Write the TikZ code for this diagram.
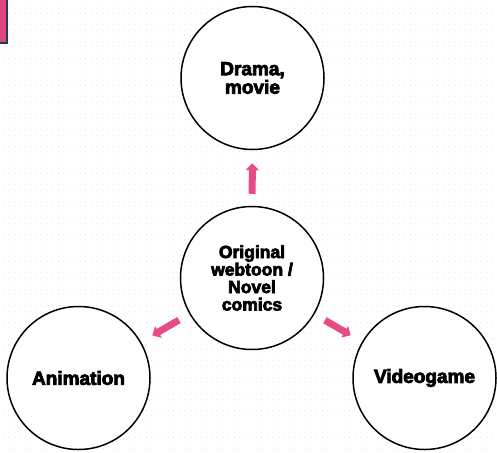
\documentclass[tikz,border=0pt]{standalone}
\usepackage{fontspec}
\newfontfamily\heavy{Liberation Sans}[UprightFont={* Bold},FakeBold=4]
\usetikzlibrary{arrows.meta}
\definecolor{pinkarrow}{HTML}{E84C86}
\definecolor{pinkbox}{HTML}{E0457B}
\definecolor{navy}{HTML}{1F3A5F}
\definecolor{dotgray}{HTML}{EDEDED}
\tikzset{
  bubble/.style={circle,draw=black,line width=1.5pt,fill=white,minimum size=143pt,inner sep=0pt,align=center},
  bigtext/.style={font=\heavy\fontsize{19}{18.5}\selectfont},
  smalltext/.style={font=\heavy\fontsize{17.5}{17.5}\selectfont},
  flow/.style={draw=pinkarrow,line width=7pt,-{Triangle[width=13pt,length=7pt]},shorten <=12pt,shorten >=13pt}
}
\begin{document}
\begin{tikzpicture}[x=1pt,y=-1pt]
\useasboundingbox (0,0) rectangle (497,452);
\fill[white] (0,0) rectangle (497,452);
\foreach \i in {0,...,90}{
  \foreach \j in {0,...,82}{
    \fill[dotgray] ({3+\i*5.5-0.5},{3+\j*5.5-0.5}) rectangle +(1,1);
  }
}
\fill[pinkbox,draw=navy,line width=2pt] (-3,-3) rectangle (7,43);
\node[bubble,bigtext] (top) at (252.5,78) {Drama,\\movie};
\node[bubble,smalltext] (center) at (252,278) {Original\\webtoon /\\Novel\\comics};
\node[bubble,bigtext] (left) at (78.5,378) {Animation};
\node[bubble,bigtext] (right) at (424.5,378) {Videogame};
\draw[flow] (center) -- (top);
\draw[flow] (center) -- (left);
\draw[flow] (center) -- (right);
\end{tikzpicture}
\end{document}
